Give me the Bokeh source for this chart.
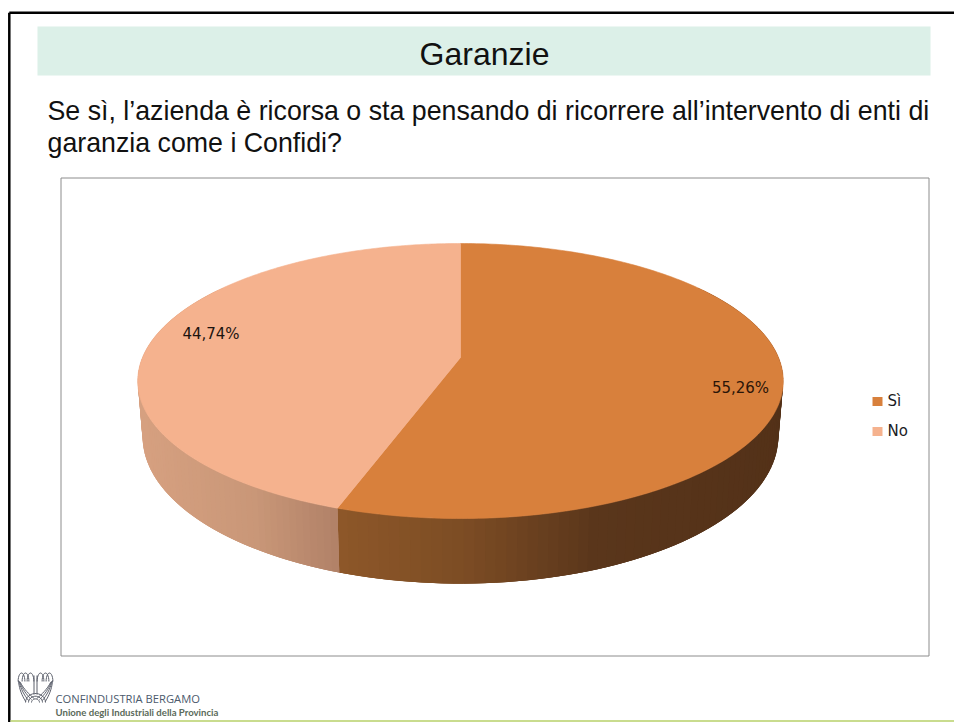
import numpy as np
from bokeh.plotting import figure
from bokeh.models import Range1d
from bokeh.core.properties import value
from bokeh.embed import file_html
from bokeh.resources import INLINE

# --- data
categories = ["Sì", "No"]
shares = [55.26, 44.74]
share_labels = ["55,26%", "44,74%"]
colors = ["#d8803c", "#f5b28e"]
title = "Garanzie"
question = ["Se sì, l’azienda è ricorsa o sta pensando di ricorrere all’intervento di enti di",
            "garanzia come i Confidi?"]
logo_lines = ["CONFINDUSTRIA BERGAMO", "Unione degli Industriali della Provincia"]

# --- page coordinates
W, H = 954, 722
p = figure(width=W, height=H, x_range=Range1d(0, W), y_range=Range1d(H, 0),
           toolbar_location=None, output_backend="svg", min_border=0,
           outline_line_color=None, background_fill_color="white")
p.axis.visible = False
p.grid.visible = False

def txt(x, y, s, size, font="Liberation Sans", color="#111111", align="left", style="normal"):
    p.text([x], [y], text=[s], text_font=value(font), text_font_size=f"{size}px",
           text_color=color, text_align=align, text_baseline="middle", text_font_style=style)

# slide frame
p.line([8.8, 8.8], [H, 12.2], line_color="black", line_width=2.5)
p.line([8.8, W], [12.2, 12.2], line_color="black", line_width=2.5)
p.line([10, W], [720.5, 720.5], line_color="#c9dc8e", line_width=2)

# header
p.quad(left=37, right=930, top=26, bottom=75, fill_color="#dcf0e8", line_color=None)
txt(484, 53, title, 32, align="center")
txt(47, 110, question[0], 26.75)
txt(47, 142, question[1], 26.75)

# chart frame
p.quad(left=60.5, right=928.5, top=177.5, bottom=655.5, fill_color="white", line_color="#8c8c8c", line_width=1)

# --- pie: a tilted disc in perspective
CX, APEX_Y, A, B, K, DEPTH, SHRINK = 460.0, 357.0, 318.0, 133.5, 0.171, 54.0, 0.985

def top_xy(th):
    u, v = np.sin(th), -np.cos(th)
    w = 1 - K * v
    return CX + A * u / w, APEX_Y + B * v / w

def bottom_xy(th):
    u, v = np.sin(th), -np.cos(th)
    w = 1 - K * v
    return CX + SHRINK * A * u / w, APEX_Y + (B * v + DEPTH) / w

fractions = np.array(shares) / sum(shares)
edges = np.concatenate([[0], np.cumsum(fractions)]) * 2 * np.pi

def lerp_stops(x, stops):
    xs = [s[0] for s in stops]
    rgb = [np.interp(x, xs, [s[1][i] for s in stops]) for i in range(3)]
    return "#%02x%02x%02x" % tuple(int(round(c)) for c in rgb)

side_shades = [
    [(338, (0x8e, 0x58, 0x29)), (470, (0x7c, 0x4c, 0x24)), (600, (0x5a, 0x36, 0x1b)), (790, (0x53, 0x31, 0x18))],
    [(140, (0xd6, 0xa0, 0x80)), (250, (0xc9, 0x97, 0x78)), (340, (0xaf, 0x7f, 0x66))],
]
# drawn from the far end towards the seam, each strip overlapping the next
side_spans = [(np.radians(55), edges[1]), (np.radians(305), edges[1])]
xs, ys, cs = [], [], []
for span, shade in zip(side_spans, side_shades):
    th = np.linspace(span[0], span[1], 90)
    for i in range(len(th) - 1):
        a, b = th[i], th[min(i + 3, len(th) - 1)]
        x1, y1 = top_xy(a); x2, y2 = top_xy(b)
        x3, y3 = bottom_xy(b); x4, y4 = bottom_xy(a)
        xs.append([x1, x2, x3, x4]); ys.append([y1, y2, y3, y4])
        cs.append(lerp_stops(x1, shade))
p.patches(xs, ys, fill_color=cs, line_color=None)

wx, wy = [], []
for i in range(len(shares)):
    th = np.linspace(edges[i], edges[i + 1], 240)
    x, y = top_xy(th)
    wx.append(np.concatenate([[CX], x]).tolist())
    wy.append(np.concatenate([[APEX_Y], y]).tolist())
p.patches(wx, wy, fill_color=colors, line_color=colors, line_width=0.6)

# labels
txt(740, 387, share_labels[0], 15, font="DejaVu Sans", color="#2a1508", align="center")
txt(210.5, 333, share_labels[1], 15, font="DejaVu Sans", color="#1c1410", align="center")

# legend
for yy, name, col in zip([401, 431], categories, colors):
    p.quad(left=872, right=882, top=yy - 4.5, bottom=yy + 4.5, fill_color=col, line_color=None)
    txt(887, yy - 1, name, 15, font="DejaVu Sans", color="#1c1c24")

# logo mark
ink = "#5c606c"
lx, ly = [], []
t = np.linspace(0, np.pi, 14)
for sign in (-1, 1):
    # wing tops
    for off in (5, 10, 14):
        lx.append((35 + sign * off + 3.4 * np.cos(t)).tolist())
        ly.append((681 - 8.5 * np.sin(t)).tolist())
    # feathers running down to the foot
    s = np.linspace(0, 1, 10)
    for off in (0, 3.2, 6.4, 9.6):
        lx.append((35 + sign * (17 - off * 0.2 - (off * 0.7 + 1.2) * s - 6 * s ** 2)).tolist())
        ly.append((680 + off * 0.2 + s * (21 - off * 0.5)).tolist())
for c_ in (33.5, 36.5):
    lx.append([c_, c_]); ly.append([675, 694])
t = np.linspace(0, np.pi, 16)
for r in (4, 7, 10):
    lx.append((35 + r * np.cos(t)).tolist()); ly.append((702 - r * 0.9 * np.sin(t)).tolist())
p.multi_line(lx, ly, line_color=ink, line_width=1.0)

txt(55, 698, logo_lines[0], 11.2, font="Open Sans", color="#4c5a6c")
txt(55, 712, logo_lines[1], 9.6, font="Lato", color="#5a6a5a", style="bold")

open("out.html", "w").write(file_html(p, INLINE))
